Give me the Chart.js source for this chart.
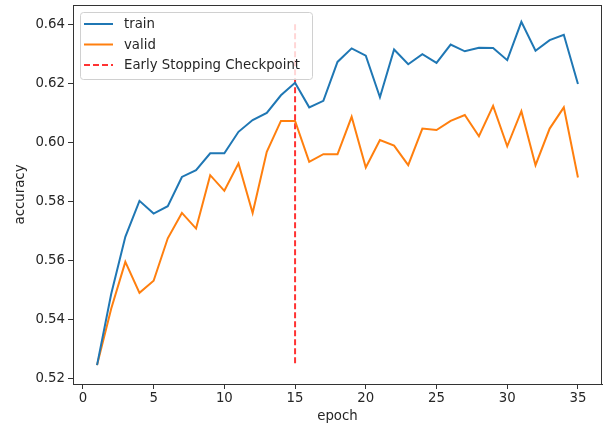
<!DOCTYPE html>
<html>
<head>
<meta charset="utf-8">
<script src="https://cdn.jsdelivr.net/npm/chart.js@4/dist/chart.umd.min.js"></script>
<style>
  html, body { margin: 0; padding: 0; background: #fff; }
  canvas { display: block; }
</style>
</head>
<body>
<canvas id="chart" width="604" height="430"></canvas>
<script>
// epochs and accuracy per epoch
const epochs = [1, 2, 3, 4, 5, 6, 7, 8, 9, 10, 11, 12, 13, 14, 15, 16, 17, 18,
    19, 20, 21, 22, 23, 24, 25, 26, 27, 28, 29, 30, 31, 32, 33, 34, 35];
const trainAcc = [0.5244, 0.5485, 0.5679, 0.5801, 0.5758, 0.5783, 0.5882, 0.5905,
    0.5962, 0.5962, 0.6035, 0.6075, 0.6099, 0.6159, 0.6201, 0.6118, 0.6140, 0.6272,
    0.6318, 0.6293, 0.6152, 0.6314, 0.6264, 0.6298, 0.6269, 0.6331, 0.6308, 0.6320,
    0.6319, 0.6278, 0.6408, 0.6310, 0.6346, 0.6364, 0.6197];
const validAcc = [0.5244, 0.5435, 0.5594, 0.5489, 0.5530, 0.5674, 0.5760, 0.5707,
    0.5888, 0.5835, 0.5928, 0.5760, 0.5967, 0.6072, 0.6072, 0.5933, 0.5959, 0.5959,
    0.6086, 0.5914, 0.6007, 0.5988, 0.5922, 0.6046, 0.6041, 0.6072, 0.6092, 0.6020,
    0.6123, 0.5986, 0.6105, 0.5922, 0.6046, 0.6118, 0.5880];

// early stopping marker
const stopEpoch = 15;
const stopRange = [0.525, 0.64];

const xTicks = [0, 5, 10, 15, 20, 25, 30, 35];
const yTicks = [0.52, 0.54, 0.56, 0.58, 0.60, 0.62, 0.64];

const FONT = 'DejaVu Sans';
const INK = '#262626';

const toPoints = (xs, ys) => xs.map((x, i) => ({ x, y: ys[i] }));

// drop the half-label padding Chart.js reserves at axis ends
const noEdgePadding = s => {
    s.paddingTop = 0;
    s.paddingBottom = 0;
    s.paddingLeft = 0;
    s.paddingRight = 0;
};

// top/right spines plus a matplotlib-like legend box
const frameAndLegend = {
    id: 'frameAndLegend',
    afterDraw(chart) {
        const { ctx, chartArea: a } = chart;
        ctx.save();
        ctx.strokeStyle = '#333';
        ctx.lineWidth = 1;
        ctx.strokeRect(a.left + 0.5, a.top + 0.5, a.right - a.left - 1, a.bottom - a.top);

        // legend frame
        const bx = 80, by = 12, bw = 232, bh = 67;
        ctx.beginPath();
        ctx.roundRect(bx + 0.5, by + 0.5, bw, bh, 3);
        ctx.fillStyle = 'rgba(255,255,255,0.8)';
        ctx.fill();
        ctx.strokeStyle = '#d0d0d0';
        ctx.stroke();

        ctx.font = '13.3px "' + FONT + '"';
        ctx.textBaseline = 'middle';
        chart.data.datasets.forEach((ds, i) => {
            const cy = by + 12 + i * 20.5;
            ctx.beginPath();
            ctx.setLineDash(ds.borderDash || []);
            ctx.strokeStyle = ds.borderColor;
            ctx.lineWidth = ds.borderWidth;
            ctx.moveTo(84, cy);
            ctx.lineTo(113, cy);
            ctx.stroke();
            ctx.setLineDash([]);
            ctx.fillStyle = INK;
            ctx.fillText(ds.label, 124, cy + 1);
        });
        ctx.restore();
    },
};

const chart = new Chart(document.getElementById('chart'), {
    type: 'line',
    data: {
        datasets: [
            {
                label: 'train',
                data: toPoints(epochs, trainAcc),
                borderColor: '#1f77b4',
                borderWidth: 2,
                pointRadius: 0,
                tension: 0,
            },
            {
                label: 'valid',
                data: toPoints(epochs, validAcc),
                borderColor: '#ff7f0e',
                borderWidth: 2,
                pointRadius: 0,
                tension: 0,
            },
            {
                label: 'Early Stopping Checkpoint',
                data: stopRange.map(y => ({ x: stopEpoch, y })),
                borderColor: 'rgba(255,0,0,0.8)',
                borderWidth: 2,
                borderDash: [6, 3],
                pointRadius: 0,
            },
        ],
    },
    options: {
        responsive: false,
        animation: false,
        layout: { padding: { top: 5, right: 2, left: 0, bottom: 0 } },
        plugins: {
            legend: { display: false },
            tooltip: { enabled: false },
        },
        scales: {
            x: {
                type: 'linear',
                min: -0.7,
                max: 36.7,
                afterBuildTicks: s => { s.ticks = xTicks.map(v => ({ value: v })); },
                afterFit: s => { s.height = 46; noEdgePadding(s); },
                grid: { drawOnChartArea: false, drawTicks: true, tickLength: 5, color: '#333' },
                border: { display: true, color: '#333' },
                ticks: {
                    color: INK,
                    padding: 2,
                    maxRotation: 0,
                    font: { family: FONT, size: 13.3 },
                },
                title: {
                    display: true,
                    text: 'epoch',
                    color: INK,
                    font: { family: FONT, size: 13.3 },
                    padding: { top: 0, bottom: 5 },
                },
            },
            y: {
                type: 'linear',
                min: 0.518,
                max: 0.6465,
                afterBuildTicks: s => { s.ticks = yTicks.map(v => ({ value: v })); },
                afterFit: s => { s.width = 73; noEdgePadding(s); },
                grid: { drawOnChartArea: false, drawTicks: true, tickLength: 5, color: '#333' },
                border: { display: true, color: '#333' },
                ticks: {
                    color: INK,
                    padding: 3,
                    font: { family: FONT, size: 13.3 },
                    callback: v => v.toFixed(2),
                },
                title: {
                    display: true,
                    text: 'accuracy',
                    color: INK,
                    font: { family: FONT, size: 13.3 },
                    padding: { top: 13, bottom: 0 },
                },
            },
        },
    },
    plugins: [frameAndLegend],
});
</script>
</body>
</html>
